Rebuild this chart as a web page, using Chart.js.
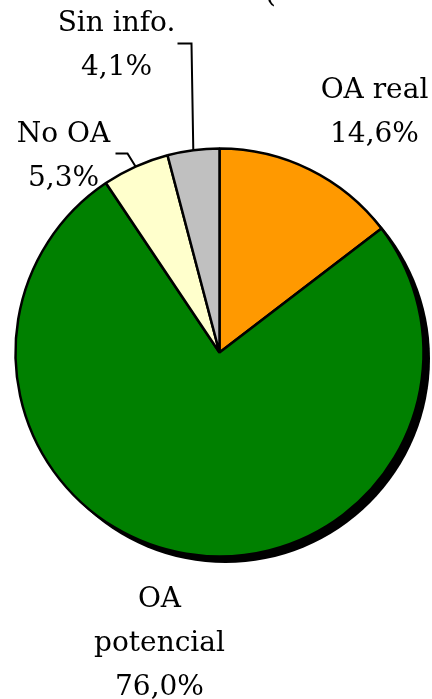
<!DOCTYPE html>
<html>
<head>
<meta charset="utf-8">
<script src="https://cdn.jsdelivr.net/npm/chart.js@4.4.1/dist/chart.umd.min.js"></script>
<style>
  html, body { margin: 0; padding: 0; background: #fff; }
  #wrap { width: 432px; height: 699px; }
</style>
</head>
<body>
<div id="wrap"><canvas id="pie" width="432" height="699"></canvas></div>
<script>
// datos
const categories = ["OA real", "OA potencial", "No OA", "Sin info."];
const shares = [14.6, 76.0, 5.3, 4.1];
const shareLabels = ["14,6%", "76,0%", "5,3%", "4,1%"];
const sliceColors = ["#ff9900", "#008000", "#ffffcc", "#c0c0c0"];

// dónde va cada rótulo, relativo al centro de la torta (dx, dy de la primera línea)
const labelLayout = [
  { lines: ["OA real", "14,6%"], dx: 155, dy: -255, leader: null },
  { lines: ["OA", "potencial", "76,0%"], dx: -60, dy: 254, leader: null },
  { lines: ["No OA", "5,3%"], dx: -156, dy: -211, leader: [[-92, -199], [-104, -199]] },
  { lines: ["Sin info.", "4,1%"], dx: -103, dy: -322, leader: [[-28, -309], [-42, -309]] }
];
const FONT = "28px 'DejaVu Serif', serif";
const LINE_H = 44;

const shadowPlugin = {
  id: "shadow",
  beforeDatasetsDraw(chart) {
    const arc = chart.getDatasetMeta(0).data[0];
    if (!arc) return;
    const ctx = chart.ctx;
    ctx.save();
    ctx.fillStyle = "#000";
    ctx.beginPath();
    ctx.arc(arc.x + 6, arc.y + 6, arc.outerRadius + 0.5, 0, Math.PI * 2);
    ctx.fill();
    ctx.restore();
  }
};

const labelsPlugin = {
  id: "pieLabels",
  afterDraw(chart) {
    const ctx = chart.ctx;
    const arcs = chart.getDatasetMeta(0).data;
    ctx.save();
    ctx.fillStyle = "#000";
    ctx.strokeStyle = "#000";
    ctx.lineWidth = 2;
    ctx.font = FONT;
    ctx.textAlign = "center";
    ctx.textBaseline = "alphabetic";
    arcs.forEach((arc, i) => {
      const lay = labelLayout[i];
      const cx = arc.x, cy = arc.y;
      if (lay.leader) {
        const mid = (arc.startAngle + arc.endAngle) / 2;
        const px = cx + Math.cos(mid) * arc.outerRadius;
        const py = cy + Math.sin(mid) * arc.outerRadius;
        ctx.beginPath();
        ctx.moveTo(px, py);
        lay.leader.forEach(([lx, ly]) => ctx.lineTo(cx + lx, cy + ly));
        ctx.stroke();
      }
      lay.lines.forEach((t, k) => {
        ctx.fillText(t, cx + lay.dx, cy + lay.dy + k * LINE_H);
      });
    });
    // resto del título, cortado arriba
    ctx.fillText("(", arcs[0].x + 51, 2);
    ctx.restore();
  }
};

new Chart(document.getElementById("pie"), {
  type: "pie",
  data: {
    labels: categories,
    datasets: [{
      data: shares,
      backgroundColor: sliceColors,
      borderColor: "#000",
      borderWidth: 2.5,
      borderAlign: "center"
    }]
  },
  options: {
    responsive: false,
    animation: false,
    devicePixelRatio: 1,
    radius: 204,
    layout: { padding: { left: 10, right: 3, top: 6, bottom: 0 } },
    plugins: { legend: { display: false }, tooltip: { enabled: false } }
  },
  plugins: [shadowPlugin, labelsPlugin]
});
</script>
</body>
</html>
